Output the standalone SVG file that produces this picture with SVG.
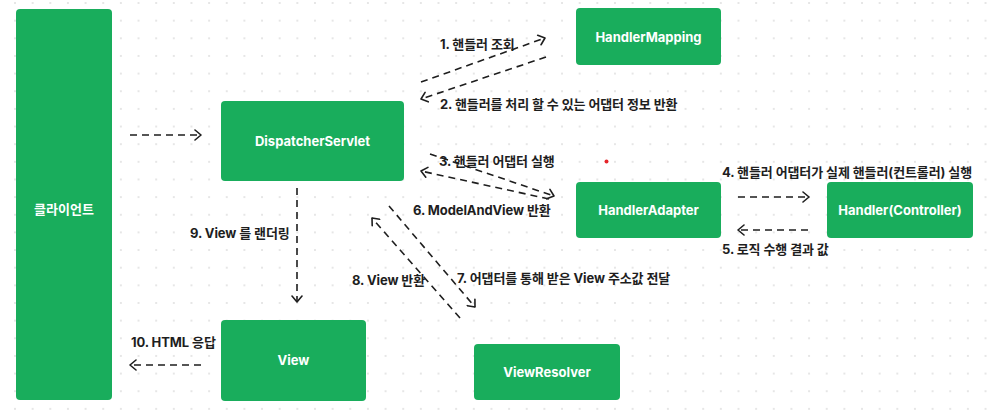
<svg xmlns="http://www.w3.org/2000/svg" width="998" height="410" viewBox="0 0 998 410">
<style>
.node{fill:#19ad5c;}
.nt{fill:#ffffff;font-family:Inter,"Noto Sans CJK KR",sans-serif;font-weight:700;font-size:13px;text-anchor:middle;}
.lb{fill:#1e1e1e;font-family:Inter,"Noto Sans CJK KR",sans-serif;font-weight:700;font-size:13px;letter-spacing:-0.1px;}
.cn{fill:none;stroke:#1e1e1e;stroke-width:1.6;stroke-dasharray:7 5;marker-end:url(#ah);}
</style>
<defs>
<pattern id="grid" patternUnits="userSpaceOnUse" x="6.18" y="-5.82" width="17.646" height="17.646">
<circle cx="8.823" cy="8.823" r="0.8" fill="#c6c6c6"/>
</pattern>
<marker id="ah" markerUnits="userSpaceOnUse" viewBox="0 0 10 12" refX="8" refY="6" markerWidth="10" markerHeight="12" orient="auto">
<path d="M2,1 L8,6 L2,11" fill="none" stroke="#1e1e1e" stroke-width="1.6" stroke-linecap="round" stroke-linejoin="round"/>
</marker>
</defs>
<rect width="998" height="410" fill="#ffffff"/>
<rect width="998" height="410" fill="url(#grid)"/>
<circle cx="606.5" cy="161.5" r="2" fill="#e5252a"/>

<g id="connectors">
<path class="cn" d="M130,135 L201,135"/>
<path class="cn" d="M421,82 L545,38"/>
<path class="cn" d="M546,57 L421,99"/>
<path class="cn" d="M430,154 L554,196"/>
<path class="cn" d="M549,199 L421,171"/>
<path class="cn" d="M738,197 L809,197"/>
<path class="cn" d="M808,230 L738,230"/>
<path class="cn" d="M297,188 L297,302"/>
<path class="cn" d="M460,318 L372,218"/>
<path class="cn" d="M389,206 L475,307"/>
<path class="cn" d="M201,365 L130,365"/>
</g>

<g id="labels">
<text class="lb" x="440" y="48.5">1. 핸들러 조회</text>
<text class="lb" x="440" y="108.5">2. 핸들러를 처리 할 수 있는 어댑터 정보 반환</text>
<text class="lb" x="439" y="166">3. 핸들러 어댑터 실행</text>
<text class="lb" x="413" y="215">6. ModelAndView 반환</text>
<text class="lb" x="722" y="177">4. 핸들러 어댑터가 실제 핸들러(컨트롤러) 실행</text>
<text class="lb" x="722" y="253.5">5. 로직 수행 결과 값</text>
<text class="lb" x="190" y="237.5">9. View 를 랜더링</text>
<text class="lb" x="352" y="284.5">8. View 반환</text>
<text class="lb" x="457" y="283">7. 어댑터를 통해 받은 View 주소값 전달</text>
<text class="lb" x="131" y="347">10. HTML 응답</text>
</g>

<g id="client">
<rect class="node" x="16" y="9" width="96" height="391" rx="4"/>
<text class="nt" x="64" y="213.5">클라이언트</text>
</g>
<g id="dispatcherServlet">
<rect class="node" x="221" y="101" width="183" height="80" rx="4"/>
<text class="nt" x="312.5" y="145.5">DispatcherServlet</text>
</g>
<g id="handlerMapping">
<rect class="node" x="576" y="8" width="145" height="57" rx="4"/>
<text class="nt" x="648.5" y="41.5">HandlerMapping</text>
</g>
<g id="handlerAdapter">
<rect class="node" x="576" y="182" width="145" height="56" rx="4"/>
<text class="nt" x="648.5" y="214.5">HandlerAdapter</text>
</g>
<g id="handlerController">
<rect class="node" x="827" y="182" width="146" height="56" rx="4"/>
<text class="nt" x="900" y="214.5">Handler(Controller)</text>
</g>
<g id="view">
<rect class="node" x="221" y="320" width="145" height="81" rx="4"/>
<text class="nt" x="293.5" y="365">View</text>
</g>
<g id="viewResolver">
<rect class="node" x="474" y="344" width="146" height="56" rx="4"/>
<text class="nt" x="547" y="377">ViewResolver</text>
</g>
</svg>
